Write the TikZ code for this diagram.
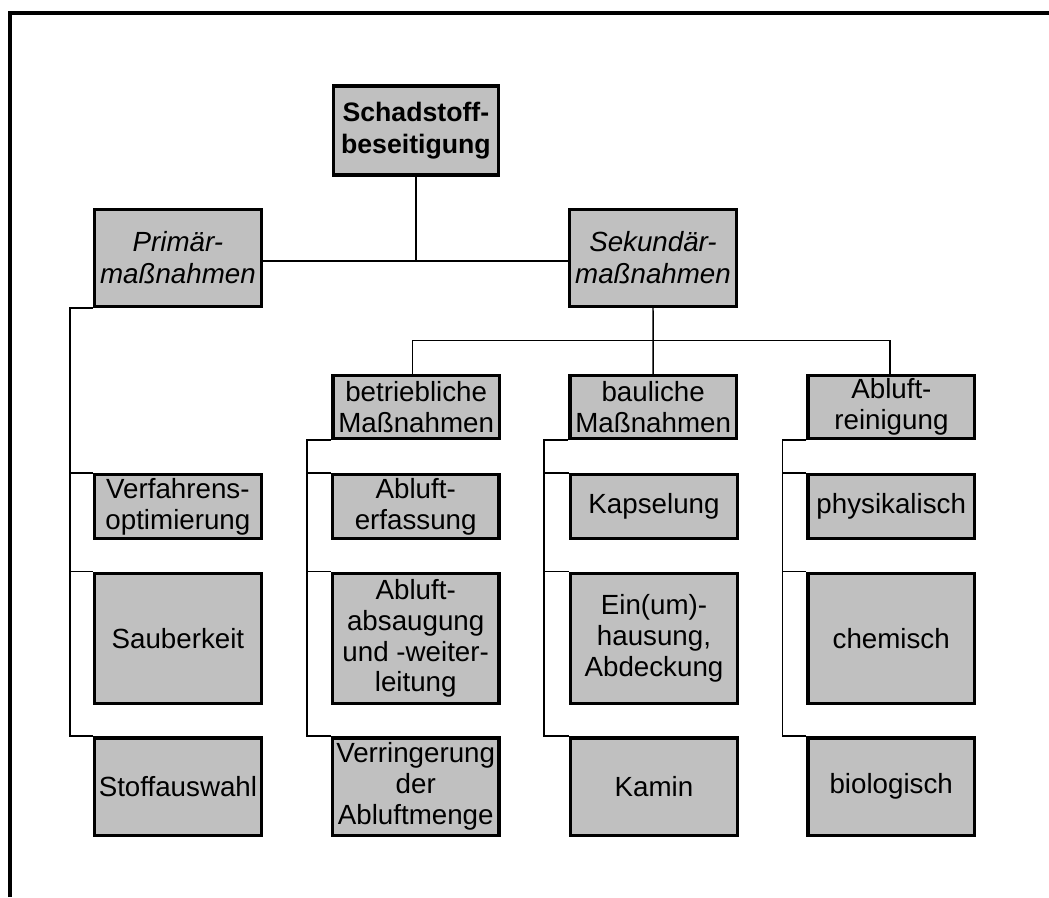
\documentclass[tikz,border=0pt]{standalone}
\usepackage{fontspec}
\setmainfont{Liberation Sans}
\begin{document}
\begin{tikzpicture}[x=0.75pt,y=-0.75pt,
  box/.style={draw=black,line width=2.6pt,fill=boxgray,inner sep=0pt,
    align=center,minimum width=125pt,
    font=\fontsize{20.8}{23.2}\selectfont},
  link/.style={draw=black,line width=1.1pt},
  frame/.style={draw=black,line width=3pt}]
\definecolor{boxgray}{HTML}{C0C0C0}
\useasboundingbox (0,0) rectangle (1049,897);

% outer frame (top and left edges only)
\draw[frame] (10,897) -- (10,13) -- (1049,13);

% top levels
\node[box,minimum width=123.6pt,minimum height=66.9pt,font=\fontsize{20}{24}\selectfont\bfseries]
  (schad) at (415.9,130.4) {Schadstoff-\\beseitigung};
\node[box,minimum height=72.4pt,font=\fontsize{20.8}{24}\selectfont\itshape]
  (prim) at (177.9,258) {Primär-\\maßnahmen};
\node[box,minimum height=72.4pt,font=\fontsize{20.8}{24}\selectfont\itshape]
  (sek) at (653,258) {Sekundär-\\maßnahmen};

% secondary groups
\node[box,minimum height=46.9pt] (betr) at (416.2,407) {betriebliche\\Maßnahmen};
\node[box,minimum height=46.9pt] (baul) at (653.2,407) {bauliche\\Maßnahmen};
\node[box,minimum height=46.9pt] (abl)  at (891.4,407) {Abluft-\\reinigung};

% leaves: column 1
\node[box,minimum height=47.8pt] (verf) at (177.9,506.4) {Verfahrens-\\optimierung};
\node[box,minimum height=97.4pt] (saub) at (177.9,638.4) {Sauberkeit};
\node[box,minimum height=73.1pt] (stoff) at (177.9,786.5) {Stoffauswahl};

% leaves: column 2
\node[box,minimum height=47.8pt] (erf) at (415.7,506.4) {Abluft-\\erfassung};
\node[box,minimum height=97.4pt] (abs) at (415.7,638.4) {Abluft-\\absaugung\\und -weiter-\\leitung};
\node[box,minimum height=73.1pt] (verr) at (415.7,786.5) {Verringerung\\der\\Abluftmenge};

% leaves: column 3
\node[box,minimum height=47.8pt] (kaps) at (654,506.4) {Kapselung};
\node[box,minimum height=97.4pt] (einh) at (654,638.4) {Ein(um)-\\hausung,\\Abdeckung};
\node[box,minimum height=73.1pt] (kamin) at (654,786.5) {Kamin};

% leaves: column 4
\node[box,minimum height=47.8pt] (phys) at (891.2,506.4) {physikalisch};
\node[box,minimum height=97.4pt] (chem) at (891.2,638.4) {chemisch};
\node[box,minimum height=73.1pt] (bio) at (891.2,786.5) {biologisch};

% main split
\coordinate (j1) at (416.7,261);
\draw[link] (schad.south) -- (schad.south |- j1);
\draw[link] (prim.east |- j1) -- (sek.west |- j1);

% secondary split
\coordinate (j2) at (654.3,340.7);
\draw[link] (sek.south) -- (baul.north);
\draw[link] ([xshift=-2.6pt]betr.north) |- (j2) -| ([xshift=-1pt]abl.north);

% primary branch
\draw[link] (prim.south west) -- ++(-23,0) coordinate (p0) -- (p0 |- stoff.north west) -- (stoff.north west);
\draw[link] (p0 |- verf.north west) -- (verf.north west);
\draw[link] (p0 |- saub.north west) -- (saub.north west);

% operational branch
\draw[link] (betr.south west) -- ++(-24,0) coordinate (b0) -- (b0 |- verr.north west) -- (verr.north west);
\draw[link] (b0 |- erf.north west) -- (erf.north west);
\draw[link] (b0 |- abs.north west) -- (abs.north west);

% structural branch
\draw[link] (baul.south west) -- ++(-24,0) coordinate (c0) -- (c0 |- kamin.north west) -- (kamin.north west);
\draw[link] (c0 |- kaps.north west) -- (kaps.north west);
\draw[link] (c0 |- einh.north west) -- (einh.north west);

% exhaust cleaning branch
\draw[link] (abl.south west) -- ++(-24,0) coordinate (d0) -- (d0 |- bio.north west) -- (bio.north west);
\draw[link] (d0 |- phys.north west) -- (phys.north west);
\draw[link] (d0 |- chem.north west) -- (chem.north west);
\end{tikzpicture}
\end{document}
